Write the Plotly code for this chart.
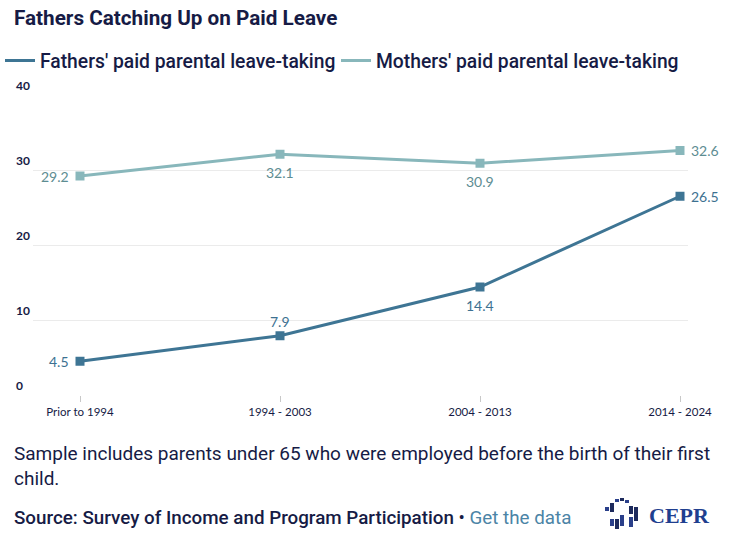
import plotly.graph_objects as go

# ---- data ----
periods = ["Prior to 1994", "1994 - 2003", "2004 - 2013", "2014 - 2024"]
fathers = [4.5, 7.9, 14.4, 26.5]
mothers = [29.2, 32.1, 30.9, 32.6]
fathers_labelpos = ["left", "above", "below", "right"]
mothers_labelpos = ["left", "below", "below", "right"]
series_names = ["Fathers' paid parental leave-taking", "Mothers' paid parental leave-taking"]
y_ticks = [0, 10, 20, 30, 40]
grid_ticks = [10, 20, 30, 40]

W, H = 752, 546
ML, MR, MT, MB = 33, 64, 95, 151
PW, PH = W - ML - MR, H - MT - MB

def px_x(p):
    return (p - ML) / PW

def px_y(p):
    return (H - MB - p) / PH

NAVY = "#161b45"
FC = "#3e7594"
MC = "#88b7bb"
FONT = "Lato"
FONT2 = "Roboto"

# label placement styles: (xanchor, yanchor, xshift, yshift)
LABEL_STYLE = {
    "left": ("right", "middle", -9, 0),
    "right": ("left", "middle", 9, 0),
    "above": ("center", "middle", 0, 14),
    "below": ("center", "middle", 0, -18),
}

fig = go.Figure()
annotations = []
for name, vals, pos, col, tcol, leg in [
    (series_names[0], fathers, fathers_labelpos, FC, "#3d7191", "legend"),
    (series_names[1], mothers, mothers_labelpos, MC, "#5d8d92", "legend2"),
]:
    fig.add_trace(go.Scatter(
        x=periods, y=vals, mode="lines+markers",
        name=name, showlegend=False,
        line=dict(color=col, width=3),
        marker=dict(symbol="square", size=9, color=col),
    ))
    # legend entry (line only, as in the reference legend)
    fig.add_trace(go.Scatter(
        x=[None], y=[None], mode="lines", name=name, legend=leg,
        line=dict(color=col, width=3), showlegend=True,
    ))
    for p, v, lp in zip(periods, vals, pos):
        xa, ya, xs, ys = LABEL_STYLE[lp]
        annotations.append(dict(
            x=p, y=v, xref="x", yref="y", text=f"{v:.1f}", showarrow=False,
            xanchor=xa, yanchor=ya, xshift=xs, yshift=ys,
            font=dict(family=FONT, size=14, color=tcol),
        ))

for v in y_ticks:
    annotations.append(dict(
        x=px_x(14), xref="paper", xanchor="left",
        y=v, yref="y", yanchor="bottom", yshift=0,
        text=f"<b>{v}</b>", showarrow=False,
        font=dict(family=FONT, size=12, color=NAVY),
    ))

annotations.append(dict(
    x=px_x(12), xref="paper", xanchor="left", align="left",
    y=px_y(440), yref="paper", yanchor="top",
    text="Sample includes parents under 65 who were employed before the birth of their first<br>child.",
    showarrow=False, font=dict(family=FONT2, size=19, color=NAVY),
))
annotations.append(dict(
    x=px_x(12), xref="paper", xanchor="left", align="left",
    y=px_y(518), yref="paper", yanchor="middle",
    text="<span style='font-weight:500'>Source: Survey of Income and Program Participation</span> • "
         "<span style='color:#4b84a6'>Get the data</span>",
    showarrow=False, font=dict(family=FONT2, size=18.8, color=NAVY),
))
annotations.append(dict(
    x=px_x(647), xref="paper", xanchor="left",
    y=px_y(515), yref="paper", yanchor="middle",
    text="<b>CEPR</b>", showarrow=False,
    font=dict(family="Liberation Serif", size=22, color="#1f3f8f"),
))

# CEPR logo marks (decorative)
logo_bars = [
    (607, 507, 511, "#2a3f8a"),
    (612, 503, 512, "#1d2a5c"), (612, 519, 526, "#2a3f8a"),
    (617, 499, 502, "#2a3f8a"), (617, 519, 529, "#1d2a5c"),
    (622, 498, 501, "#1d2a5c"), (622, 515, 526, "#2a3f8a"),
    (627, 500, 503, "#2a3f8a"),
    (631, 506, 514, "#1d2a5c"), (631, 517, 527, "#2a3f8a"),
    (636, 507, 521, "#1d2a5c"),
]
shapes = []
for cx, y0, y1, col in logo_bars:
    shapes.append(dict(
        type="rect", xref="paper", yref="paper",
        x0=px_x(cx - 2), x1=px_x(cx + 2), y0=px_y(y1), y1=px_y(y0),
        fillcolor=col, line=dict(width=0), layer="above",
    ))

legend_common = dict(
    orientation="h", xref="container", xanchor="left",
    yref="container", y=1 - 61 / H, yanchor="middle",
    font=dict(family=FONT2, size=19.3, color=NAVY, weight=500),
    itemwidth=30, bgcolor="rgba(0,0,0,0)",
)

fig.update_layout(
    width=W, height=H,
    margin=dict(l=ML, r=MR, t=MT, b=MB, pad=0, autoexpand=False),
    plot_bgcolor="white", paper_bgcolor="white",
    title=dict(
        text="<b>Fathers Catching Up on Paid Leave</b>",
        x=14 / W, xanchor="left", xref="container",
        y=1 - 18 / H, yanchor="middle", yref="container",
        font=dict(family=FONT2, size=20.7, color=NAVY),
    ),
    showlegend=True,
    legend=dict(x=-5 / W, **legend_common),
    legend2=dict(x=336 / W, **legend_common),
    xaxis=dict(
        type="category", range=[-0.235, 3.04],
        showgrid=False, showline=False, zeroline=False,
        ticks="outside", ticklen=6, tickcolor="#c8c8c8", tickwidth=1,
        tickfont=dict(family=FONT, size=11.5, color=NAVY),
        fixedrange=True,
    ),
    yaxis=dict(
        range=[0, 40], tickvals=grid_ticks, showticklabels=False,
        showgrid=True, gridcolor="#ebebeb", gridwidth=1,
        zeroline=False, showline=False, ticks="",
        fixedrange=True,
    ),
    annotations=annotations,
    shapes=shapes,
)

fig.write_html("out.html")
